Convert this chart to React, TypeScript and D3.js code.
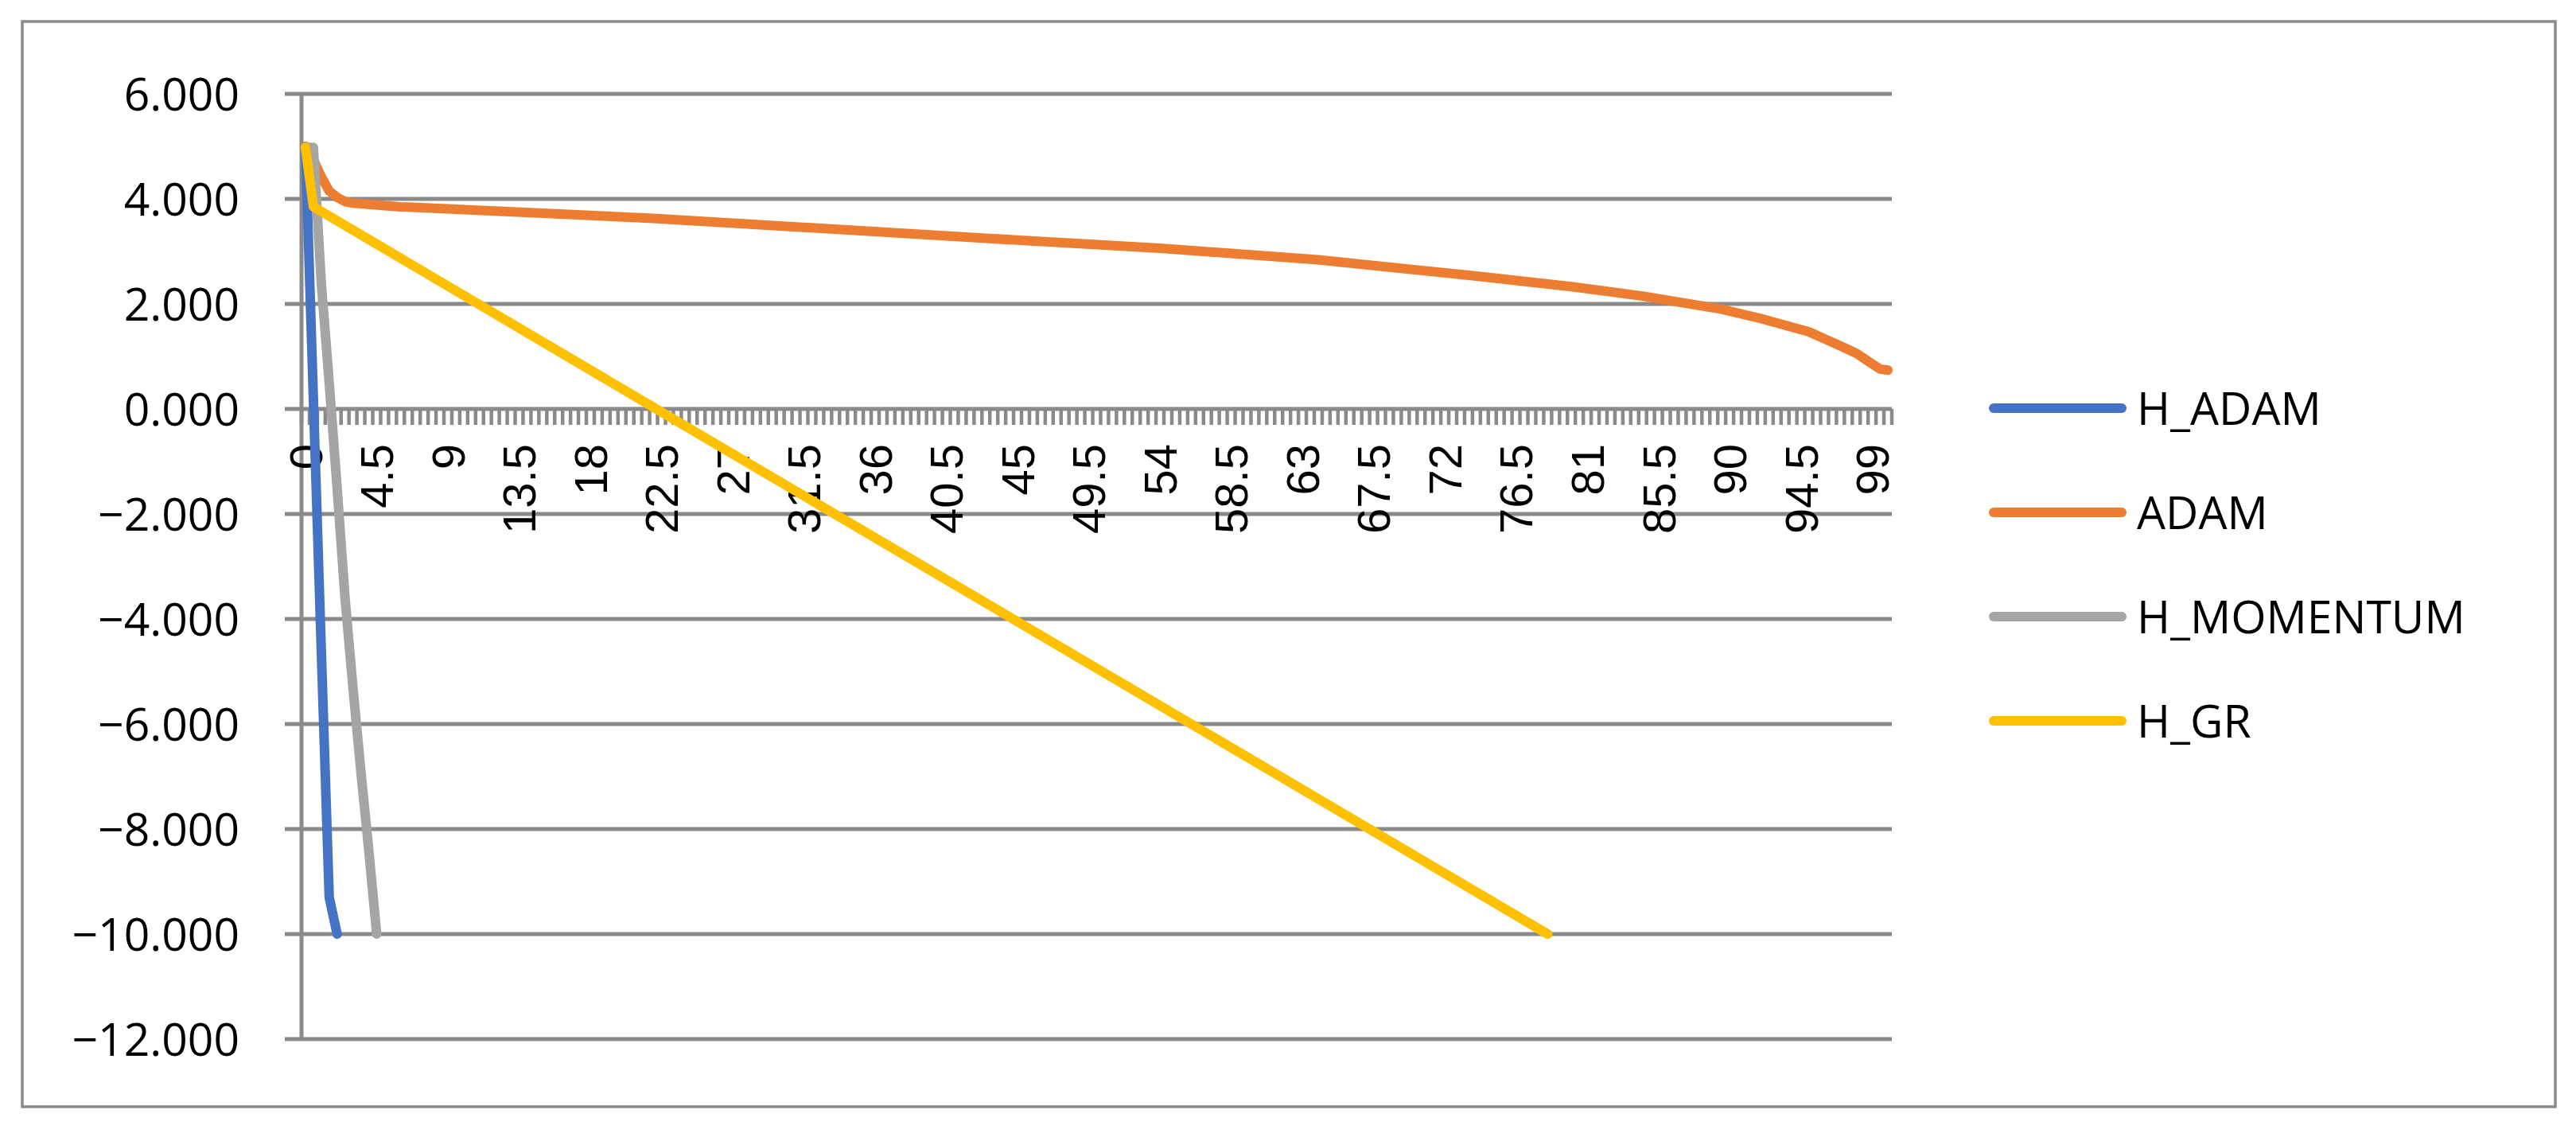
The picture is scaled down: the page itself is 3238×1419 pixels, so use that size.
import React, { useMemo } from "react";
import * as d3 from "d3";

// categories on the x axis: 0, 0.5, ... 100 (Excel line chart, 201 points)
const categories: number[] = d3.range(0, 100.5, 0.5);
const xTickLabels = ["0", "4.5", "9", "13.5", "18", "22.5", "27", "31.5", "36", "40.5", "45", "49.5", "54", "58.5", "63", "67.5", "72", "76.5", "81", "85.5", "90", "94.5", "99"];
const yTicks = [6, 4, 2, 0, -2, -4, -6, -8, -10, -12];

// series (category, value)
const hAdamX = [0, 0.5, 1, 1.5, 2];
const hAdamY = [5.0, 0.2, -4.6, -9.3, -10.0];

const adamX = [0, 0.5, 1, 1.5, 2, 2.5, 3, 6, 22, 43, 54, 64, 74, 80, 84.5, 89.5, 92, 95, 97, 98, 99, 99.5, 100];
const adamY = [5.0, 4.75, 4.42, 4.15, 4.03, 3.95, 3.92, 3.85, 3.63, 3.25, 3.06, 2.84, 2.53, 2.33, 2.15, 1.9, 1.72, 1.47, 1.2, 1.06, 0.86, 0.76, 0.74];

const hMomX = [0, 0.5, 1, 1.5, 2, 2.5, 3, 3.5, 4, 4.5];
const hMomY = [4.98, 4.98, 2.4, 0.5, -1.5, -3.6, -5.3, -6.9, -8.4, -10.0];

const hGrX = [0, 0.5, 22, 45, 78.5];
const hGrY = [4.98, 3.85, 0.03, -4.05, -10.0];

const seriesNames = ["H_ADAM", "ADAM", "H_MOMENTUM", "H_GR"];
const seriesColors = ["#4472C4", "#ED7D31", "#A5A5A5", "#FFC000"];

const W = 3238,
  H = 1419;
const plotLeft = 379,
  plotRight = 2378,
  plotTop = 118,
  plotBottom = 1306;
const gridColor = "#8a8a8a";
const labelFont = "'Open Sans', 'Noto Sans', sans-serif";
const tickFont = "'Liberation Sans', Arial, sans-serif";

const fmt = (v: number) => (v < 0 ? "\u2212" : "") + d3.format(".3f")(Math.abs(v));

export default function App() {
  const x = useMemo(
    () =>
      d3
        .scaleBand<string>()
        .domain(categories.map(String))
        .range([plotLeft, plotRight])
        .paddingInner(0)
        .paddingOuter(0),
    []
  );
  const y = useMemo(
    () => d3.scaleLinear().domain([-12, 6]).range([plotBottom, plotTop]),
    []
  );
  const cx = (c: number) => (x(String(c)) as number) + x.bandwidth() / 2;

  const series = [
    d3.zip(hAdamX, hAdamY),
    d3.zip(adamX, adamY),
    d3.zip(hMomX, hMomY),
    d3.zip(hGrX, hGrY),
  ];

  const line = d3
    .line<number[]>()
    .x((d) => cx(d[0]))
    .y((d) => y(d[1]));

  const boundaries = d3.range(categories.length + 1).map((i) => plotLeft + i * x.bandwidth());

  const legendX = 2506,
    legendY0 = 513,
    legendStep = 131;

  return (
    <div style={{ position: "absolute", left: 0, top: 0 }}>
      <svg width={W} height={H} viewBox={`0 0 ${W} ${H}`} style={{ display: "block", background: "#fff" }}>
        <rect x={0} y={0} width={W} height={H} fill="#fff" />
        <rect x={28} y={27} width={3184} height={1364} fill="none" stroke={gridColor} strokeWidth={3.5} />

        {/* gridlines + value axis */}
        {yTicks.map((t) => (
          <line key={"g" + t} x1={plotLeft - 21} x2={plotRight} y1={y(t)} y2={y(t)} stroke={gridColor} strokeWidth={5} />
        ))}
        <line x1={plotLeft} x2={plotLeft} y1={plotTop} y2={plotBottom} stroke={gridColor} strokeWidth={5} />
        {yTicks.map((t) => (
          <text
            key={"yl" + t}
            x={301}
            y={y(t)}
            dy="0.36em"
            textAnchor="end"
            fontFamily={labelFont}
            fontSize={57}
            fill="#000"
          >
            {fmt(t)}
          </text>
        ))}

        {/* category axis at 0 */}
        {boundaries.map((bx, i) => (
          <line key={"t" + i} x1={bx} x2={bx} y1={y(0)} y2={y(0) + 20} stroke={gridColor} strokeWidth={4.5} />
        ))}
        {xTickLabels.map((l) => (
          <text
            key={"xl" + l}
            transform={`translate(${cx(+l)},${y(0) + 44}) rotate(-90)`}
            dy="0.36em"
            textAnchor="end"
            fontFamily={tickFont}
            fontSize={58}
            fill="#000"
          >
            {l}
          </text>
        ))}

        {/* series */}
        {series.map((s, i) => (
          <path
            key={"s" + i}
            d={line(s) as string}
            fill="none"
            stroke={seriesColors[i]}
            strokeWidth={12}
            strokeLinecap="round"
            strokeLinejoin="round"
          />
        ))}

        {/* legend */}
        {seriesNames.map((n, i) => (
          <g key={"lg" + n} transform={`translate(0,${legendY0 + i * legendStep})`}>
            <line x1={legendX} x2={legendX + 161} y1={0} y2={0} stroke={seriesColors[i]} strokeWidth={12} strokeLinecap="round" />
            <text x={2686} y={0} dy="0.36em" fontFamily={labelFont} fontSize={57} fill="#000">
              {n}
            </text>
          </g>
        ))}
      </svg>
    </div>
  );
}
